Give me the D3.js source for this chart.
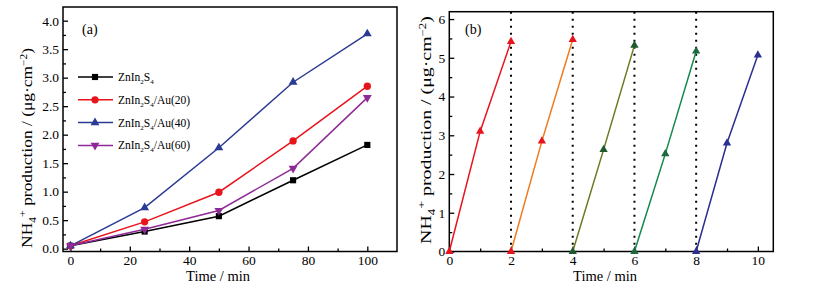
<!DOCTYPE html>
<html>
<head>
<meta charset="utf-8">
<script src="https://cdn.jsdelivr.net/npm/d3@7"></script>
<style>
  body { margin: 0; background: #fff; }
  svg, svg text { font-family: "Times New Roman", "Liberation Serif", Tinos, "DejaVu Serif", serif !important; }
</style>
</head>
<body>
<svg id="chart" width="814" height="291"></svg>
<script>
// panel (a) data
const timeA = [0, 25, 50, 75, 100];
const pure = [0.05, 0.30, 0.57, 1.20, 1.82];
const au20 = [0.05, 0.47, 0.99, 1.89, 2.85];
const au40 = [0.05, 0.72, 1.77, 2.92, 3.77];
const au60 = [0.05, 0.34, 0.67, 1.41, 2.65];
const seriesNamesA = ["", "/Au(20)", "/Au(40)", "/Au(60)"];
const xTicksA = [0, 20, 40, 60, 80, 100];
const yTicksA = [0, 0.5, 1, 1.5, 2, 2.5, 3, 3.5, 4];

// panel (b) data: five cycles
const cycleTimes = [[0, 1, 2], [2, 3, 4], [4, 5, 6], [6, 7, 8], [8, 9, 10]];
const cycleValues = [[0, 3.1, 5.42], [0, 2.85, 5.47], [0, 2.63, 5.32], [0, 2.52, 5.17], [0, 2.8, 5.07]];
const cycleBreaks = [2, 4, 6, 8];
const xTicksB = [0, 2, 4, 6, 8, 10];
const yTicksB = [0, 1, 2, 3, 4, 5, 6];

const FONT = "'Times New Roman', 'Liberation Serif', Tinos, 'DejaVu Serif', serif";
const svg = d3.select("#chart").attr("font-family", FONT);

function frame(g, x, y, xt, yt, xMinor, yMinor, yFmt) {
    const h = y.range()[0];
    const w = x.range()[1];
    g.append("g")
        .attr("transform", "translate(0," + h + ")")
        .call(d3.axisBottom(x).tickValues(xMinor).tickSize(-3).tickFormat(""))
        .call(a => a.select(".domain").remove());
    g.append("g")
        .call(d3.axisLeft(y).tickValues(yMinor).tickSize(-3).tickFormat(""))
        .call(a => a.select(".domain").remove());
    g.append("g")
        .attr("transform", "translate(0," + h + ")")
        .call(d3.axisBottom(x).tickValues(xt).tickSize(-5).tickPadding(4))
        .call(a => a.select(".domain").remove())
        .attr("font-family", FONT).attr("font-size", 13.5);
    g.append("g")
        .call(d3.axisLeft(y).tickValues(yt).tickSize(-5).tickPadding(4).tickFormat(yFmt))
        .call(a => a.select(".domain").remove())
        .attr("font-family", FONT).attr("font-size", 13.5);
    g.selectAll(".tick line").attr("stroke", "#000").attr("stroke-width", 1.3);
    g.append("rect")
        .attr("x", 0).attr("y", 0).attr("width", w).attr("height", h)
        .attr("fill", "none").attr("stroke", "#000").attr("stroke-width", 1.5);
}

// rotated y title, stretched along its length to a target size
function yTitle(g, bx, cy, size, len) {
    const holder = g.append("g");
    const t = holder.append("text")
        .attr("text-anchor", "middle")
        .attr("font-family", FONT)
        .style("font-size", size + "px");
    t.append("tspan").text("NH");
    t.append("tspan").attr("dy", 4).style("font-size", (size * 0.65) + "px").text("4");
    t.append("tspan").attr("dy", -10).style("font-size", (size * 0.7) + "px").text("+");
    t.append("tspan").attr("dy", 6).text(" production / (μg·cm");
    t.append("tspan").attr("dy", -5).style("font-size", (size * 0.65) + "px").text("−2");
    t.append("tspan").attr("dy", 5).text(")");
    const w = t.node().getBBox().width;
    holder.attr("transform", "translate(" + bx + "," + cy + ") rotate(-90) scale(" + (len / w) + ",1)");
}

function xTitle(g, cx, cy) {
    g.append("text")
        .attr("x", cx).attr("y", cy)
        .attr("text-anchor", "middle")
        .attr("font-family", FONT)
        .style("font-size", "14.5px")
        .text("Time / min");
}

// ---------- panel (a)
const boxA = { left: 63, top: 7, right: 397, bottom: 251.5 };
const gA = svg.append("g").attr("transform", "translate(" + boxA.left + "," + boxA.top + ")");
const xA = d3.scaleLinear().domain([-2.5, 110]).range([0, boxA.right - boxA.left]);
const yA = d3.scaleLinear().domain([-0.05, 4.24]).range([boxA.bottom - boxA.top, 0]);

frame(gA, xA, yA, xTicksA, yTicksA,
    d3.range(10, 110, 20), d3.range(0.25, 4.25, 0.5), d3.format(".1f"));

const colorsA = ["#000000", "#e8141c", "#2b3a92", "#8e2a96"];
const shapesA = [d3.symbolSquare, d3.symbolCircle, d3.symbolTriangle, d3.symbolTriangle];
const sizesA = [38, 42, 34, 34];
const rotA = [0, 0, 0, 180];
const dataA = [pure, au20, au40, au60];

const lineA = d3.line().x((d, i) => xA(timeA[i])).y(d => yA(d));
dataA.forEach((vals, k) => {
    gA.append("path").datum(vals)
        .attr("d", lineA)
        .attr("fill", "none").attr("stroke", colorsA[k]).attr("stroke-width", 1.5);
    gA.selectAll(".m" + k).data(vals).enter().append("path")
        .attr("transform", (d, i) => "translate(" + xA(timeA[i]) + "," + yA(d) + ") rotate(" + rotA[k] + ")")
        .attr("d", d3.symbol().type(shapesA[k]).size(sizesA[k]))
        .attr("fill", colorsA[k]);
});

// legend
const legA = svg.append("g");
seriesNamesA.forEach((name, k) => {
    const ly = 77 + k * 22.8;
    legA.append("line").attr("x1", 78).attr("x2", 113).attr("y1", ly).attr("y2", ly)
        .attr("stroke", colorsA[k]).attr("stroke-width", 1.5);
    legA.append("path")
        .attr("transform", "translate(95," + ly + ") rotate(" + rotA[k] + ")")
        .attr("d", d3.symbol().type(shapesA[k]).size(sizesA[k]))
        .attr("fill", colorsA[k]);
    const t = legA.append("text").attr("x", 118).attr("y", ly + 4)
        .attr("font-family", FONT).style("font-size", "11.5px");
    t.append("tspan").text("ZnIn");
    t.append("tspan").attr("dy", 3).style("font-size", "7px").text("2");
    t.append("tspan").attr("dy", -3).text("S");
    t.append("tspan").attr("dy", 3).style("font-size", "7px").text("4");
    t.append("tspan").attr("dy", -3).text(name);
});

svg.append("text").attr("x", 82).attr("y", 34).attr("font-family", FONT).style("font-size", "14px").text("(a)");
yTitle(svg, 32, 148, 15, 200);
xTitle(svg, 218, 281);

// ---------- panel (b)
const boxB = { left: 449.3, top: 11.7, right: 773.3, bottom: 251.5 };
const gB = svg.append("g").attr("transform", "translate(" + boxB.left + "," + boxB.top + ")");
const xB = d3.scaleLinear().domain([0, 10.5]).range([0, boxB.right - boxB.left]);
const yB = d3.scaleLinear().domain([0, 6.19]).range([boxB.bottom - boxB.top, 0]);

frame(gB, xB, yB, xTicksB, yTicksB,
    d3.range(1, 11, 2), d3.range(0.5, 6.5, 1), d3.format("d"));

gB.selectAll(".brk").data(cycleBreaks).enter().append("line")
    .attr("x1", d => xB(d)).attr("x2", d => xB(d))
    .attr("y1", 0).attr("y2", yB(0))
    .attr("stroke", "#000").attr("stroke-width", 2)
    .attr("stroke-dasharray", "2,5");

const lineColorsB = ["#e8141c", "#f07a1e", "#6b7a22", "#14894a", "#2b2f92"];
const markColorsB = ["#e8141c", "#e8141c", "#1f5a2c", "#1a6a3c", "#2b2f92"];
cycleValues.forEach((vals, k) => {
    const ts = cycleTimes[k];
    gB.append("path").datum(vals)
        .attr("d", d3.line().x((d, i) => xB(ts[i])).y(d => yB(d)))
        .attr("fill", "none").attr("stroke", lineColorsB[k]).attr("stroke-width", 1.5);
    gB.selectAll(".mb" + k).data(vals).enter().append("path")
        .attr("transform", (d, i) => "translate(" + xB(ts[i]) + "," + yB(d) + ")")
        .attr("d", d3.symbol().type(d3.symbolTriangle).size(30))
        .attr("fill", markColorsB[k]);
});

svg.append("text").attr("x", 465).attr("y", 34).attr("font-family", FONT).style("font-size", "14px").text("(b)");
yTitle(svg, 431, 130, 15, 228);
xTitle(svg, 605, 281);
</script>
</body>
</html>
